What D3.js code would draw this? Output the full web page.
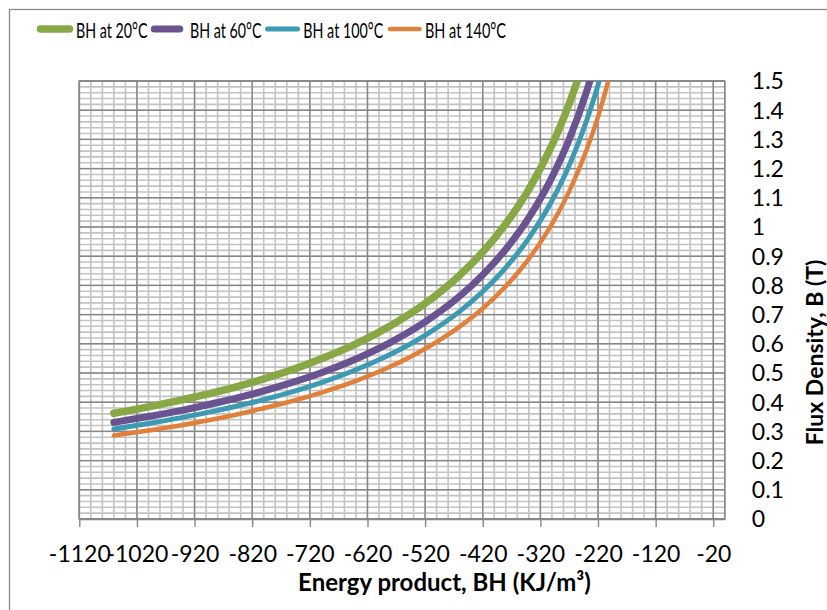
<!DOCTYPE html>
<html>
<head>
<meta charset="utf-8">
<script src="https://cdn.jsdelivr.net/npm/d3@7"></script>
<style>
  html, body { margin: 0; padding: 0; background: #ffffff; }
  svg { display: block; font-family: "Lato", "Liberation Sans", sans-serif; }
</style>
</head>
<body>
<svg id="chart" width="827" height="610"></svg>
<script>
// ---- data ----
const energyBH = [-1060, -1000, -940, -880, -820, -760, -700, -640, -580, -520, -460, -420, -380, -340, -300, -270, -240, -220, -200];
const bAt20  = [0.362, 0.384, 0.409, 0.436, 0.468, 0.505, 0.549, 0.600, 0.662, 0.738, 0.835, 0.914, 1.011, 1.129, 1.280, 1.422, 1.600, 1.745, 1.920];
const bAt60  = [0.331, 0.351, 0.373, 0.399, 0.428, 0.462, 0.501, 0.548, 0.605, 0.675, 0.763, 0.836, 0.924, 1.032, 1.170, 1.300, 1.463, 1.595, 1.755];
const bAt100 = [0.308, 0.327, 0.348, 0.372, 0.399, 0.430, 0.467, 0.511, 0.564, 0.629, 0.711, 0.779, 0.861, 0.962, 1.090, 1.211, 1.363, 1.486, 1.635];
const bAt140 = [0.286, 0.303, 0.322, 0.344, 0.370, 0.399, 0.433, 0.473, 0.522, 0.583, 0.659, 0.721, 0.797, 0.891, 1.010, 1.122, 1.263, 1.377, 1.515];
const seriesNames = ["BH at 20°C", "BH at 60°C", "BH at 100°C", "BH at 140°C"];
const xTickLabels = [-1120, -1020, -920, -820, -720, -620, -520, -420, -320, -220, -120, -20];
const yTickLabels = [0, 0.1, 0.2, 0.3, 0.4, 0.5, 0.6, 0.7, 0.8, 0.9, 1, 1.1, 1.2, 1.3, 1.4, 1.5];
const xTitle = "Energy product, BH (KJ/m³)";
const yTitle = "Flux Density, B (T)";

// ---- styles ----
const colors = ["#88a846", "#6a5391", "#3d9ab3", "#e0803a"];
const widths = [7.5, 7, 5, 4.5];
const tickFont = 23;

const svg = d3.select("#chart");
const plot = { left: 79.3, top: 81, right: 724.8, bottom: 519 };

const x = d3.scaleLinear().domain([-1120, 0]).range([plot.left, plot.right]);
const y = d3.scaleLinear().domain([0, 1.5]).range([plot.bottom, plot.top]);

// outer chart border
svg.append("rect")
  .attr("x", 9.5).attr("y", 9.5).attr("width", 900).attr("height", 700)
  .attr("fill", "none").attr("stroke", "#8a8a8a").attr("stroke-width", 1.3);

// minor grid
const xMinor = d3.range(0, 57).map(i => -1120 + 20 * i);
const yMinor = d3.range(0, 76).map(i => i * 0.02);
const g = svg.append("g");
g.selectAll("line.xm").data(xMinor).join("line")
  .attr("x1", d => x(d)).attr("x2", d => x(d))
  .attr("y1", plot.top).attr("y2", plot.bottom)
  .attr("stroke", "#c3c3c3").attr("stroke-width", 1.6);
g.selectAll("line.ym").data(yMinor).join("line")
  .attr("y1", d => y(d)).attr("y2", d => y(d))
  .attr("x1", plot.left).attr("x2", plot.right)
  .attr("stroke", "#c3c3c3").attr("stroke-width", 1.6);

// major grid
g.selectAll("line.xM").data(xTickLabels).join("line")
  .attr("x1", d => x(d)).attr("x2", d => x(d))
  .attr("y1", plot.top).attr("y2", plot.bottom)
  .attr("stroke", "#878787").attr("stroke-width", 1.4);
g.selectAll("line.yM").data(yTickLabels).join("line")
  .attr("y1", d => y(d)).attr("y2", d => y(d))
  .attr("x1", plot.left).attr("x2", plot.right)
  .attr("stroke", "#878787").attr("stroke-width", 1.4);

// plot border
svg.append("rect")
  .attr("x", plot.left).attr("y", plot.top)
  .attr("width", plot.right - plot.left).attr("height", plot.bottom - plot.top)
  .attr("fill", "none").attr("stroke", "#878787").attr("stroke-width", 1.6);

// x axis
const xAxis = d3.axisBottom(x).tickValues(xTickLabels).tickFormat(d => String(d))
  .tickSizeInner(8).tickSizeOuter(0).tickPadding(19);
const xg = svg.append("g").attr("transform", `translate(0,${plot.bottom})`).call(xAxis);
xg.select(".domain").attr("stroke", "#878787").attr("stroke-width", 1.6);
xg.selectAll(".tick line").attr("stroke", "#878787").attr("stroke-width", 1.4);
xg.selectAll(".tick text").attr("font-size", tickFont).attr("fill", "#000")
  .attr("font-family", "Lato, sans-serif");

// y axis (labels on right)
const yAxis = d3.axisRight(y).tickValues(yTickLabels).tickFormat(d => String(Math.round(d * 10) / 10))
  .tickSizeInner(0).tickSizeOuter(0).tickPadding(27);
const yg = svg.append("g").attr("transform", `translate(${plot.right},0)`).call(yAxis);
yg.select(".domain").remove();
yg.selectAll(".tick text").attr("font-size", tickFont).attr("fill", "#000")
  .attr("font-family", "Lato, sans-serif").attr("dy", "0.34em");

// series lines
svg.append("clipPath").attr("id", "clip")
  .append("rect").attr("x", plot.left).attr("y", plot.top)
  .attr("width", plot.right - plot.left).attr("height", plot.bottom - plot.top);
const seriesData = [bAt20, bAt60, bAt100, bAt140];
const line = d3.line().x(d => x(d[0])).y(d => y(d[1])).curve(d3.curveMonotoneX);
const lg = svg.append("g").attr("clip-path", "url(#clip)");
seriesData.forEach((vals, i) => {
  lg.append("path")
    .datum(energyBH.map((e, j) => [e, vals[j]]))
    .attr("d", line)
    .attr("fill", "none")
    .attr("stroke", colors[i])
    .attr("stroke-width", widths[i])
    .attr("stroke-linecap", "round")
    .attr("stroke-linejoin", "round");
});

// legend (text horizontally condensed, as in the reference)
const legendItems = [
  { x1: 40.5, x2: 69.5, tx: 76, tw: 71.5 },
  { x1: 154.3, x2: 179.8, tx: 190, tw: 71.5 },
  { x1: 267.5, x2: 297.5, tx: 303.3, tw: 80 },
  { x1: 390, x2: 419.5, tx: 425, tw: 81 }
];
const leg = svg.append("g");
legendItems.forEach((it, i) => {
  leg.append("line")
    .attr("x1", it.x1).attr("x2", it.x2).attr("y1", 29).attr("y2", 29)
    .attr("stroke", colors[i]).attr("stroke-width", widths[i])
    .attr("stroke-linecap", "round");
  const t = leg.append("text")
    .attr("x", 0).attr("y", 0)
    .attr("font-size", 22)
    .text(seriesNames[i]);
  const w = t.node().getComputedTextLength() || it.tw;
  t.attr("transform", `translate(${it.tx},37.5) scale(${it.tw / w},1)`);
});

// axis titles
svg.append("text")
  .attr("x", 444.5).attr("y", 591)
  .attr("text-anchor", "middle")
  .attr("font-size", 24).attr("font-weight", "bold")
  .text(xTitle);
svg.append("text")
  .attr("transform", "translate(822.5,352.5) rotate(-90)")
  .attr("text-anchor", "middle")
  .attr("font-size", 23).attr("font-weight", "bold")
  .text(yTitle);
</script>
</body>
</html>
